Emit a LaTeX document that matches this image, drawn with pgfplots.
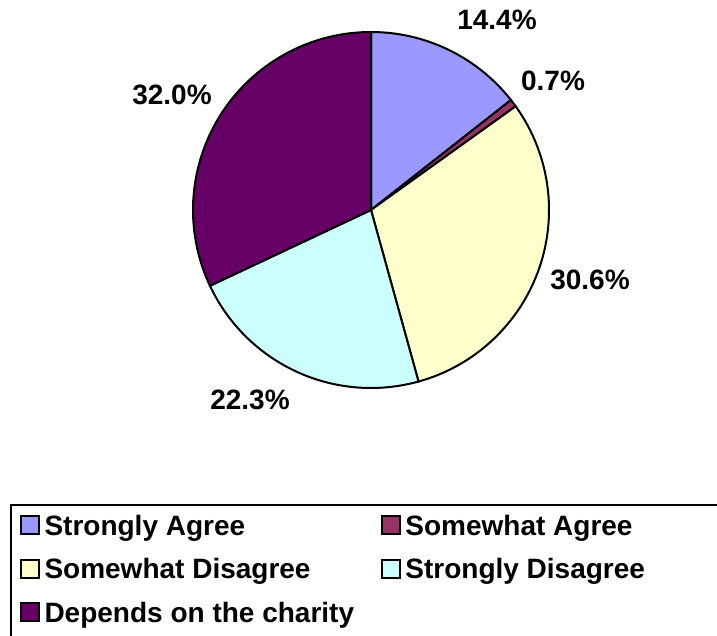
\documentclass[border=0pt]{standalone}
\usepackage{fontspec}
\setmainfont{Liberation Sans}
\usepackage{pgfplots}
\pgfplotsset{compat=1.18}
\definecolor{cSA}{HTML}{9999FF}
\definecolor{cMA}{HTML}{993366}
\definecolor{cMD}{HTML}{FFFFCC}
\definecolor{cSD}{HTML}{CCFFFF}
\definecolor{cDC}{HTML}{660066}
% shares (percent)
\def\vA{14.4}\def\vB{0.7}\def\vC{30.6}\def\vD{22.3}\def\vE{32.0}
\pgfmathsetmacro\aA{90}
\pgfmathsetmacro\aB{\aA-3.6*\vA}
\pgfmathsetmacro\aC{\aB-3.6*\vB}
\pgfmathsetmacro\aD{\aC-3.6*\vC}
\pgfmathsetmacro\aE{\aD-3.6*\vD}
\pgfmathsetmacro\aF{\aE-3.6*\vE}
\newcommand\lblfont{\fontsize{28bp}{30bp}\selectfont\bfseries}
\begin{document}
\begin{tikzpicture}
\useasboundingbox (0,0) rectangle (717bp,636bp);
\begin{axis}[at={(0,0)}, anchor=south west, scale only axis,
  width=717bp, height=636bp, xmin=0, xmax=717, ymin=0, ymax=636,
  y dir=reverse, hide axis, clip=false,
  legend image code/.code={\draw[#1, line width=1.8bp] (0bp,1bp) rectangle (18bp,19bp);},
  legend columns=2,
  legend style={draw=none, fill=none, inner sep=0pt, at={(axis cs:20,515)}, anchor=north west,
    font=\lblfont, row sep=17.5bp,
    nodes={inner sep=0pt, text height=20bp, text depth=6bp, anchor=base west},
    /tikz/every odd column/.append style={column sep=4.5bp},
    /tikz/every even column/.append style={column sep=27bp}},
  legend cell align=left]
\addplot[fill=cSA, draw=black, line width=2bp, domain=\aB:\aA, samples=80, variable=\t]
  ({371+178*cos(t)}, {210-178*sin(t)}) -- (axis cs:371,210) -- cycle;
\addlegendentry{Strongly Agree}
\addplot[fill=cMA, draw=black, line width=2bp, domain=\aC:\aB, samples=5, variable=\t]
  ({371+178*cos(t)}, {210-178*sin(t)}) -- (axis cs:371,210) -- cycle;
\addlegendentry{Somewhat Agree}
\addplot[fill=cMD, draw=black, line width=2bp, domain=\aD:\aC, samples=120, variable=\t]
  ({371+178*cos(t)}, {210-178*sin(t)}) -- (axis cs:371,210) -- cycle;
\addlegendentry{Somewhat Disagree}
\addplot[fill=cSD, draw=black, line width=2bp, domain=\aE:\aD, samples=100, variable=\t]
  ({371+178*cos(t)}, {210-178*sin(t)}) -- (axis cs:371,210) -- cycle;
\addlegendentry{Strongly Disagree}
\addplot[fill=cDC, draw=black, line width=2bp, domain=\aF:\aE, samples=120, variable=\t]
  ({371+178*cos(t)}, {210-178*sin(t)}) -- (axis cs:371,210) -- cycle;
\addlegendentry{Depends on the charity}
\node[font=\lblfont, inner sep=0pt] at (axis cs:497,20) {14.4\%};
\node[font=\lblfont, inner sep=0pt] at (axis cs:553,81) {0.7\%};
\node[font=\lblfont, inner sep=0pt] at (axis cs:590,280) {30.6\%};
\node[font=\lblfont, inner sep=0pt] at (axis cs:250,400) {22.3\%};
\node[font=\lblfont, inner sep=0pt] at (axis cs:172,95) {32.0\%};
\draw[line width=2bp] (axis cs:11,700) -- (axis cs:11,505) -- (axis cs:760,505);
\end{axis}
\end{tikzpicture}
\end{document}
